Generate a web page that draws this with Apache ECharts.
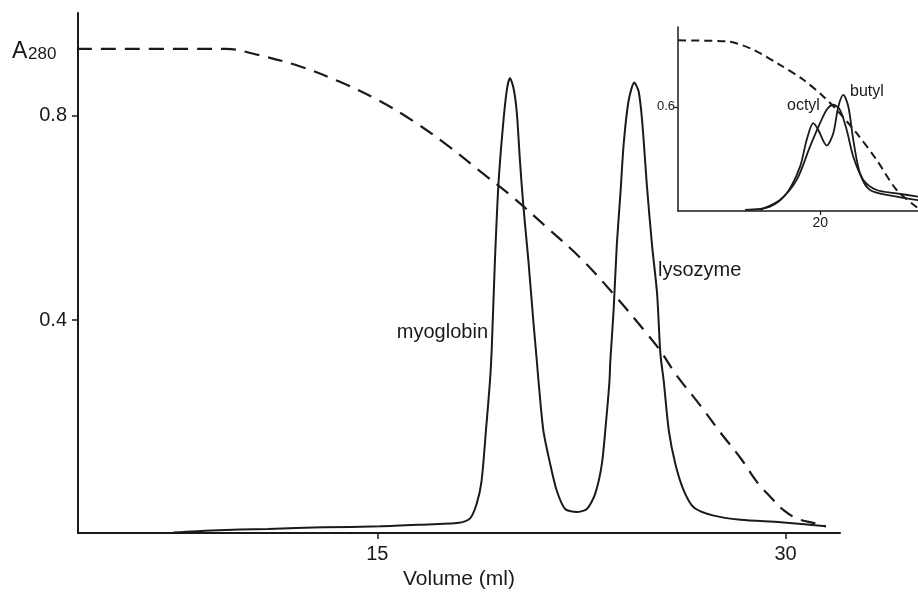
<!DOCTYPE html>
<html>
<head>
<meta charset="utf-8">
<script src="https://cdn.jsdelivr.net/npm/echarts@6/dist/echarts.min.js"></script>
<style>
  html, body { margin: 0; padding: 0; background: #fff; }
  #chart { width: 918px; height: 607px; }
</style>
</head>
<body>
<div id="chart"></div>
<script>
// Elution profile: myoglobin and lysozyme peaks (solid) with the gradient trace (dashed)
const elutionVolume = [7.5, 8.9, 11, 13, 15.1, 16.5, 18.0, 18.4, 18.65, 18.83, 18.99, 19.14, 19.2, 19.32, 19.45, 19.61, 19.75, 19.87, 20.0, 20.12, 20.24, 20.36, 20.55, 20.73, 20.86, 20.92, 21.1, 21.35, 21.59, 21.9, 22.33, 22.7, 23.0, 23.25, 23.43, 23.53, 23.56, 23.68, 23.8, 23.93, 24.05, 24.23, 24.44, 24.6, 24.73, 24.91, 25.09, 25.28, 25.4, 25.52, 25.71, 25.95, 26.26, 26.63, 27.36, 28.35, 29.82, 31.48];
const elutionA280 = [-0.015, -0.011, -0.008, -0.005, -0.003, 0.0, 0.004, 0.012, 0.041, 0.086, 0.184, 0.282, 0.34, 0.516, 0.666, 0.776, 0.847, 0.873, 0.854, 0.808, 0.711, 0.626, 0.516, 0.399, 0.32, 0.282, 0.184, 0.119, 0.067, 0.031, 0.025, 0.031, 0.06, 0.119, 0.217, 0.282, 0.32, 0.418, 0.548, 0.646, 0.743, 0.828, 0.864, 0.847, 0.789, 0.659, 0.548, 0.451, 0.334, 0.282, 0.184, 0.119, 0.067, 0.034, 0.018, 0.01, 0.005, -0.003];

const gradientVolume = [3.96, 9.45, 10.55, 12.14, 13.6, 15.09, 16.31, 17.54, 18.77, 20.0, 21.23, 22.45, 23.68, 24.91, 25.4, 26.01, 26.87, 27.61, 28.35, 28.96, 29.45, 29.94, 30.43, 31.17, 31.48];
const gradientLevel = [0.93, 0.93, 0.919, 0.896, 0.866, 0.828, 0.789, 0.743, 0.691, 0.639, 0.581, 0.522, 0.451, 0.373, 0.34, 0.291, 0.233, 0.18, 0.13, 0.083, 0.054, 0.028, 0.012, 0.002, -0.003];

// Inset: butyl and octyl columns with their gradient
const insetGradientVolume = [4.03, 9.48, 12.47, 15.47, 18.1, 20.35, 21.85, 24.1, 26.35, 28.6, 31.0];
const insetGradientLevel = [0.983, 0.977, 0.929, 0.842, 0.756, 0.66, 0.583, 0.448, 0.294, 0.121, 0.016];

const butylVolume = [11.54, 14.35, 16.23, 17.73, 18.48, 19.22, 19.78, 20.73, 21.47, 22.04, 22.6, 23.16, 23.72, 24.47, 25.6, 28.6, 31.0];
const butylA280 = [0.006, 0.025, 0.102, 0.256, 0.41, 0.506, 0.467, 0.377, 0.448, 0.602, 0.669, 0.602, 0.41, 0.218, 0.121, 0.083, 0.063];

const octylVolume = [13.2, 15.47, 17.35, 18.85, 19.98, 20.73, 21.47, 22.22, 22.98, 23.72, 24.85, 26.35, 28.6, 31.0];
const octylA280 = [0.006, 0.063, 0.179, 0.371, 0.506, 0.583, 0.612, 0.583, 0.467, 0.313, 0.179, 0.121, 0.102, 0.083];

const mainXTicks = [15, 30];
const mainYTicks = [0.4, 0.8];
const insetXTicks = [20];
const insetYTicks = [0.6];

const zip = (xs, ys) => xs.map((x, i) => [x, ys[i]]);

const INK = '#1a1a1a';
const FONT = 'Liberation Sans, Arial, Helvetica, sans-serif';

const chart = echarts.init(document.getElementById('chart'), null, { renderer: 'canvas' });

const axisBase = (w) => ({
  axisLine: { show: true, onZero: false, lineStyle: { color: INK, width: w } },
  splitLine: { show: false }
});

chart.setOption({
  animation: false,
  backgroundColor: '#ffffff',
  grid: [
    { left: 78, top: 13, right: 78, bottom: 74 },
    { left: 678, top: 27, width: 240, height: 184 }
  ],
  xAxis: [
    Object.assign(axisBase(2), {
      type: 'value', gridIndex: 0, min: 4, max: 32,
      axisTick: { show: true, customValues: mainXTicks, length: 6, lineStyle: { color: INK, width: 1.5 } },
      axisLabel: { customValues: mainXTicks, fontSize: 20, color: INK, fontFamily: FONT, margin: 11 },
      name: 'Volume (ml)', nameLocation: 'middle', nameGap: 36,
      nameTextStyle: { fontSize: 21, color: INK, fontFamily: FONT }
    }),
    Object.assign(axisBase(1.5), {
      type: 'value', gridIndex: 1, min: 4, max: 31,
      axisTick: { show: true, customValues: insetXTicks, length: 4, lineStyle: { color: INK, width: 1.2 } },
      axisLabel: { customValues: insetXTicks, fontSize: 14, color: INK, fontFamily: FONT, margin: 5 }
    })
  ],
  yAxis: [
    Object.assign(axisBase(2), {
      type: 'value', gridIndex: 0, min: -0.016, max: 1.0,
      axisTick: { show: true, customValues: mainYTicks, length: 6, lineStyle: { color: INK, width: 1.5 } },
      axisLabel: { customValues: mainYTicks, fontSize: 20, color: INK, fontFamily: FONT, margin: 11,
                   formatter: v => v.toFixed(1) }
    }),
    Object.assign(axisBase(1.5), {
      type: 'value', gridIndex: 1, min: 0, max: 1.06,
      axisTick: { show: true, customValues: insetYTicks, length: 4, lineStyle: { color: INK, width: 1.2 } },
      axisLabel: { customValues: insetYTicks, fontSize: 13, color: INK, fontFamily: FONT, margin: 3,
                   formatter: v => v.toFixed(1) }
    })
  ],
  series: [
    {
      type: 'line', xAxisIndex: 0, yAxisIndex: 0, data: zip(elutionVolume, elutionA280),
      symbol: 'none', smooth: 0.25, lineStyle: { color: INK, width: 2 }
    },
    {
      type: 'line', xAxisIndex: 0, yAxisIndex: 0, data: zip(gradientVolume, gradientLevel),
      symbol: 'none', smooth: 0.35, lineStyle: { color: INK, width: 2.2, type: [15, 9] }
    },
    {
      type: 'line', xAxisIndex: 1, yAxisIndex: 1, data: zip(insetGradientVolume, insetGradientLevel),
      symbol: 'none', smooth: 0.3, lineStyle: { color: INK, width: 2, type: [8, 5] }
    },
    {
      type: 'line', xAxisIndex: 1, yAxisIndex: 1, data: zip(butylVolume, butylA280),
      symbol: 'none', smooth: 0.3, lineStyle: { color: INK, width: 1.8 }
    },
    {
      type: 'line', xAxisIndex: 1, yAxisIndex: 1, data: zip(octylVolume, octylA280),
      symbol: 'none', smooth: 0.3, lineStyle: { color: INK, width: 1.8 }
    }
  ],
  graphic: [
    { type: 'text', left: 12, top: 40, style: { text: 'A', font: '23px ' + FONT, fill: INK } },
    { type: 'text', left: 28, top: 46, style: { text: '280', font: '17px ' + FONT, fill: INK } },
    { type: 'text', right: 918 - 488, top: 322, style: { text: 'myoglobin', font: '20px ' + FONT, fill: INK } },
    { type: 'text', left: 658, top: 260, style: { text: 'lysozyme', font: '20px ' + FONT, fill: INK } },
    { type: 'text', left: 787, top: 98, style: { text: 'octyl', font: '16px ' + FONT, fill: INK } },
    { type: 'text', left: 850, top: 84, style: { text: 'butyl', font: '16px ' + FONT, fill: INK } }
  ]
});
</script>
</body>
</html>
